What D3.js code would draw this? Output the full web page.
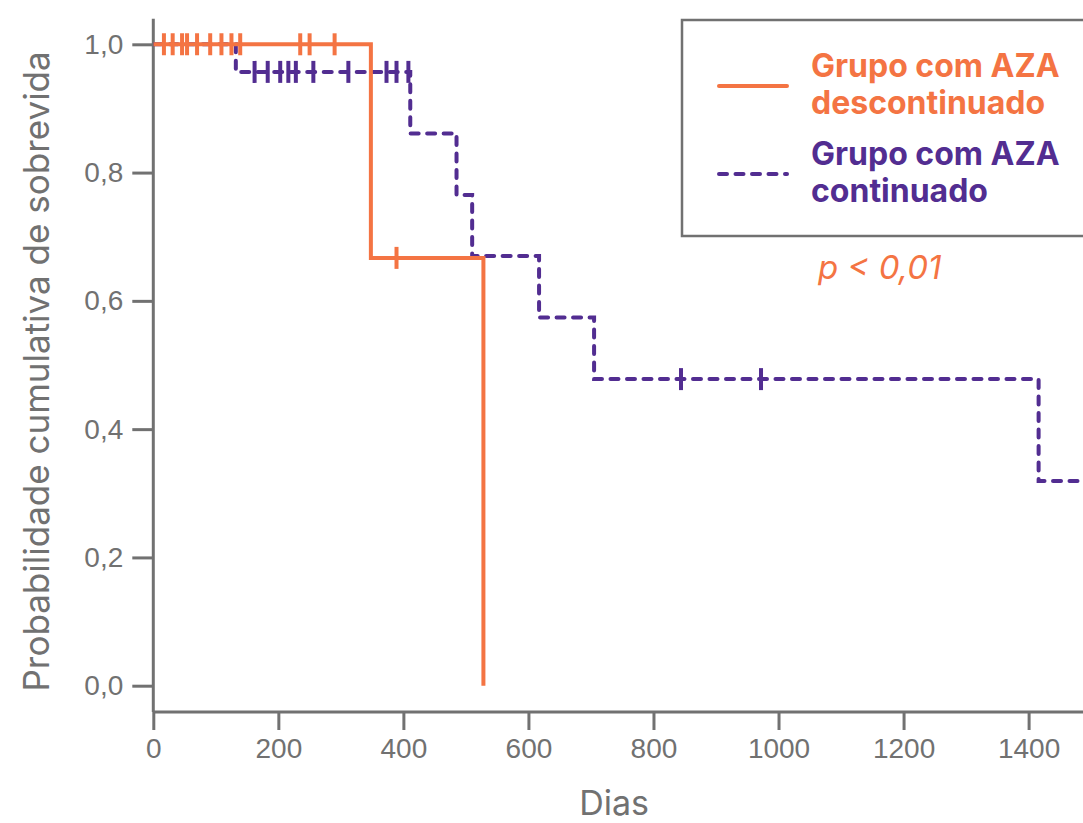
<!DOCTYPE html>
<html>
<head>
<meta charset="utf-8">
<script src="https://cdn.jsdelivr.net/npm/d3@7"></script>
<style>
  body { margin: 0; background: #fff; }
  svg { display: block; font-family: "Inter", "Roboto", sans-serif; }
</style>
</head>
<body>
<script>
// Kaplan-Meier steps
const discDays = [0, 348, 528];
const discSurv = [1.0, 0.667, 0.0];
const discCensor = [17, 31, 46, 54, 70, 91, 109, 125, 139, 235, 250, 290, 389];

const contDays = [0, 132, 411, 485, 510, 617, 705, 1416];
const contSurv = [1.0, 0.957, 0.861, 0.765, 0.670, 0.574, 0.478, 0.319];
const contCensor = [162, 183, 203, 216, 228, 256, 312, 373, 389, 408, 844, 972];

const xTicks = [0, 200, 400, 600, 800, 1000, 1200, 1400];
const yTicks = [0, 0.2, 0.4, 0.6, 0.8, 1.0];
const legendLabels = [["Grupo com AZA", "descontinuado"], ["Grupo com AZA", "continuado"]];

const orange = "#f47443";
const purple = "#522d91";
const grey = "#717171";

const W = 1083, H = 823;
const svg = d3.select("body").append("svg")
    .attr("width", W)
    .attr("height", H);

const x = d3.scaleLinear().domain([0, 1487]).range([153.3, 1083]);
const y = d3.scaleLinear().domain([0, 1]).range([685.7, 44.3]);
const axisY = y(-0.041);

svg.append("defs").append("clipPath").attr("id", "clip")
    .append("rect")
    .attr("x", x(0)).attr("y", 0)
    .attr("width", W - x(0)).attr("height", H);

// axes
const yAxis = svg.append("g")
    .attr("transform", `translate(${x(0)},0)`)
    .call(d3.axisLeft(y).tickValues(yTicks).tickSize(21).tickPadding(9)
        .tickFormat(d => d3.format(".1f")(d).replace(".", ",")));
yAxis.select(".domain").remove();

const xAxis = svg.append("g")
    .attr("transform", `translate(0,${axisY})`)
    .call(d3.axisBottom(x).tickValues(xTicks).tickSize(18).tickPadding(8)
        .tickFormat(d3.format("d")));
xAxis.select(".domain").remove();

svg.selectAll(".tick line").attr("stroke", grey).attr("stroke-width", 3);
svg.selectAll(".tick text").attr("fill", grey).style("font-size", "28px");

svg.append("line")
    .attr("x1", x(0)).attr("x2", x(0))
    .attr("y1", y(1.04)).attr("y2", axisY)
    .attr("stroke", grey).attr("stroke-width", 3);
svg.append("line")
    .attr("x1", x(0)).attr("x2", W)
    .attr("y1", axisY).attr("y2", axisY)
    .attr("stroke", grey).attr("stroke-width", 3);

// axis titles
svg.append("text")
    .attr("transform", `translate(49,${y(0.49)}) rotate(-90)`)
    .attr("text-anchor", "middle")
    .attr("fill", grey)
    .style("font-size", "35px")
    .text("Probabilidade cumulativa de sobrevida");

svg.append("text")
    .attr("x", x(737)).attr("y", 815)
    .attr("text-anchor", "middle")
    .attr("fill", grey)
    .style("font-size", "34px")
    .text("Dias");

// step curves
function stepPoints(days, surv, endDay) {
    const pts = [];
    days.forEach((d, i) => {
        if (i > 0) pts.push([d, surv[i - 1]]);
        pts.push([d, surv[i]]);
    });
    if (endDay !== undefined) pts.push([endDay, surv[surv.length - 1]]);
    return pts;
}
function survAt(days, surv, t) {
    let s = surv[0];
    days.forEach((d, i) => { if (t >= d) s = surv[i]; });
    return s;
}

const line = d3.line().x(d => x(d[0])).y(d => y(d[1]));
const plot = svg.append("g").attr("clip-path", "url(#clip)");

plot.append("path")
    .datum(stepPoints(contDays, contSurv, 1500))
    .attr("d", line)
    .attr("fill", "none")
    .attr("stroke", purple)
    .attr("stroke-width", 4)
    .attr("stroke-linecap", "round")
    .attr("stroke-dasharray", "8,8.5");

plot.selectAll(".cc")
    .data(contCensor)
    .enter().append("line")
    .attr("x1", d => x(d)).attr("x2", d => x(d))
    .attr("y1", d => y(survAt(contDays, contSurv, d)) - 11)
    .attr("y2", d => y(survAt(contDays, contSurv, d)) + 11)
    .attr("stroke", purple).attr("stroke-width", 4);

plot.append("path")
    .datum(stepPoints(discDays, discSurv))
    .attr("d", line)
    .attr("fill", "none")
    .attr("stroke", orange)
    .attr("stroke-width", 4);

plot.selectAll(".dc")
    .data(discCensor)
    .enter().append("line")
    .attr("x1", d => x(d)).attr("x2", d => x(d))
    .attr("y1", d => y(survAt(discDays, discSurv, d)) - 11)
    .attr("y2", d => y(survAt(discDays, discSurv, d)) + 11)
    .attr("stroke", orange).attr("stroke-width", 4);

// legend
const legend = svg.append("g");
legend.append("rect")
    .attr("x", 682).attr("y", 20)
    .attr("width", 420).attr("height", 216)
    .attr("fill", "#fff")
    .attr("stroke", grey).attr("stroke-width", 2.5);

const legendColors = [orange, purple];
legendLabels.forEach((lines, i) => {
    const g = legend.append("g").attr("transform", `translate(0,${i * 88})`);
    g.append("line")
        .attr("x1", 719).attr("x2", 787)
        .attr("y1", 86).attr("y2", 86)
        .attr("stroke", legendColors[i])
        .attr("stroke-width", 4)
        .attr("stroke-linecap", "round")
        .attr("stroke-dasharray", i === 1 ? "8,8.5" : null);
    lines.forEach((t, j) => {
        g.append("text")
            .attr("x", 811).attr("y", 77 + j * 37)
            .attr("fill", legendColors[i])
            .style("font-size", "32px")
            .style("font-weight", "bold")
            .text(t);
    });
});

svg.append("text")
    .attr("x", 818).attr("y", 279)
    .attr("fill", orange)
    .style("font-size", "33px")
    .style("font-style", "italic")
    .text("p < 0,01");
</script>
</body>
</html>
